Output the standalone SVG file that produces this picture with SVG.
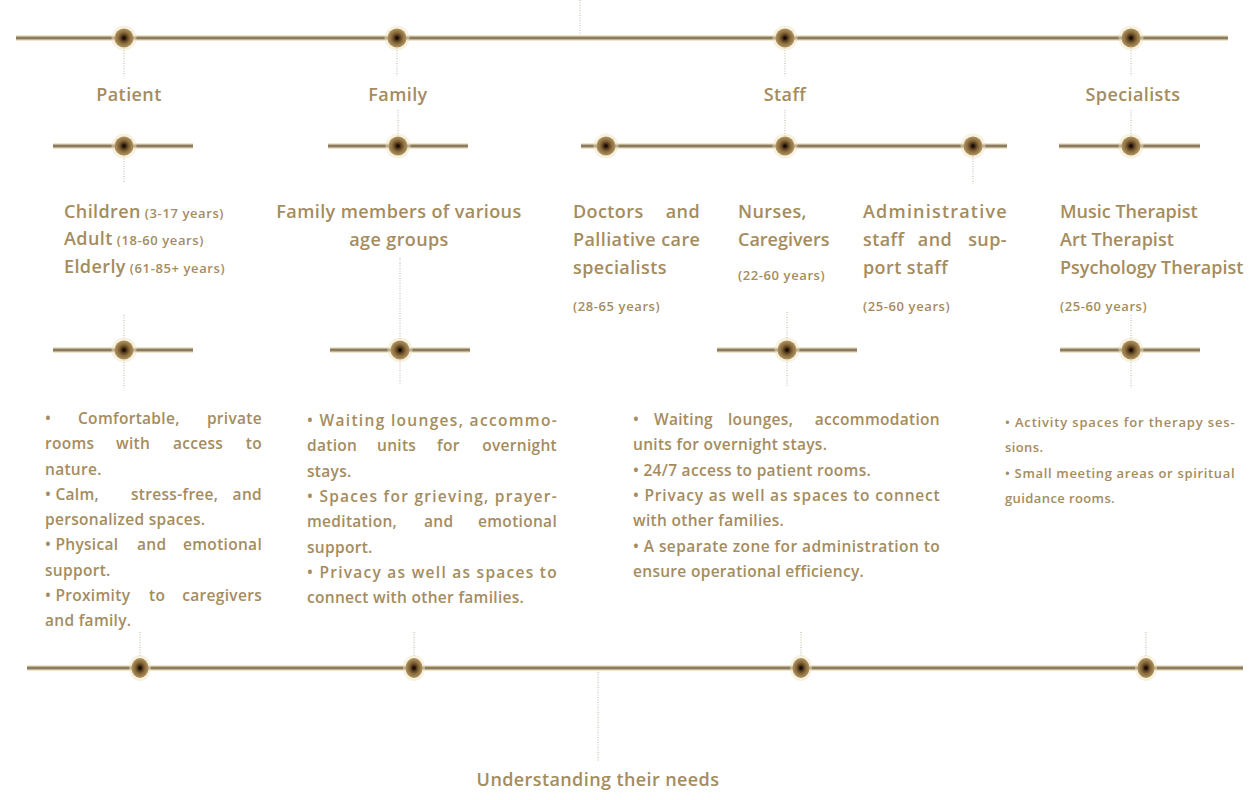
<svg xmlns="http://www.w3.org/2000/svg" width="1258" height="800" viewBox="0 0 1258 800">
<defs>
<radialGradient id="dg" cx="50%" cy="50%" r="50%">
<stop offset="0" stop-color="#1e120a"/>
<stop offset="0.25" stop-color="#4a3118"/>
<stop offset="0.6" stop-color="#8a6c3c"/>
<stop offset="1" stop-color="#b09462"/>
</radialGradient>
<g id="dot"><circle r="12.5" fill="#efe3c2" opacity="0.5"/><circle r="9.5" fill="url(#dg)"/><circle r="1.8" fill="#1a0f08"/></g>
<g id="edot"><ellipse rx="11" ry="13" fill="#efe3c2" opacity="0.5"/><ellipse rx="8.5" ry="10" fill="url(#dg)"/><circle r="1.8" fill="#1a0f08"/></g>
</defs>
<style>
.ln{stroke:#8c7c5f;stroke-width:3;fill:none}
.lg{stroke:#e6d6ad;stroke-width:6;fill:none;opacity:0.6}
.dt{stroke:#bfb6a6;stroke-width:1;stroke-dasharray:1 1.5;fill:none}
text{font-family:"Open Sans","Liberation Sans",sans-serif;fill:#a48c60;font-weight:600}
.h{font-size:18px;letter-spacing:0.4px}
.h0{font-size:18px;letter-spacing:0}
.c{text-anchor:middle}
.e{text-anchor:end}
.s{font-size:13px;letter-spacing:0.6px}
.b{font-size:15.5px;letter-spacing:0.3px}
.bs{font-size:13px;letter-spacing:0.4px}
</style>
<rect width="1258" height="800" fill="#ffffff"/>
<g id="connectors">
<line class="dt" x1="580" y1="0" x2="580" y2="36"/>
<line class="lg" x1="16" y1="38" x2="1228" y2="38"/><line class="ln" x1="16" y1="38" x2="1228" y2="38"/>
<line class="dt" x1="124" y1="48" x2="124" y2="76"/>
<line class="dt" x1="397" y1="48" x2="397" y2="76"/>
<line class="dt" x1="785" y1="48" x2="785" y2="76"/>
<line class="dt" x1="1131" y1="48" x2="1131" y2="76"/>
<line class="lg" x1="53" y1="146" x2="193" y2="146"/><line class="ln" x1="53" y1="146" x2="193" y2="146"/>
<line class="lg" x1="328" y1="146" x2="468" y2="146"/><line class="ln" x1="328" y1="146" x2="468" y2="146"/>
<line class="lg" x1="581" y1="146" x2="1007" y2="146"/><line class="ln" x1="581" y1="146" x2="1007" y2="146"/>
<line class="lg" x1="1059" y1="146" x2="1200" y2="146"/><line class="ln" x1="1059" y1="146" x2="1200" y2="146"/>
<line class="dt" x1="124" y1="156" x2="124" y2="182"/>
<line class="dt" x1="398" y1="110" x2="398" y2="136"/>
<line class="dt" x1="785" y1="110" x2="785" y2="136"/>
<line class="dt" x1="973" y1="156" x2="973" y2="184"/>
<line class="dt" x1="1131" y1="110" x2="1131" y2="136"/>
<line class="dt" x1="400" y1="258" x2="400" y2="340"/>
<line class="lg" x1="53" y1="350" x2="193" y2="350"/><line class="ln" x1="53" y1="350" x2="193" y2="350"/>
<line class="lg" x1="330" y1="350" x2="470" y2="350"/><line class="ln" x1="330" y1="350" x2="470" y2="350"/>
<line class="lg" x1="717" y1="350" x2="857" y2="350"/><line class="ln" x1="717" y1="350" x2="857" y2="350"/>
<line class="lg" x1="1060" y1="350" x2="1200" y2="350"/><line class="ln" x1="1060" y1="350" x2="1200" y2="350"/>
<line class="dt" x1="124" y1="315" x2="124" y2="340"/><line class="dt" x1="124" y1="360" x2="124" y2="388"/>
<line class="dt" x1="400" y1="360" x2="400" y2="385"/>
<line class="dt" x1="787" y1="312" x2="787" y2="340"/><line class="dt" x1="787" y1="360" x2="787" y2="386"/>
<line class="dt" x1="1131" y1="315" x2="1131" y2="340"/><line class="dt" x1="1131" y1="360" x2="1131" y2="388"/>
<line class="lg" x1="27" y1="668" x2="1243" y2="668"/><line class="ln" x1="27" y1="668" x2="1243" y2="668"/>
<line class="dt" x1="140" y1="632" x2="140" y2="656"/>
<line class="dt" x1="414" y1="632" x2="414" y2="656"/>
<line class="dt" x1="801" y1="632" x2="801" y2="656"/>
<line class="dt" x1="1146" y1="632" x2="1146" y2="656"/>
<line class="dt" x1="598" y1="672" x2="598" y2="762"/>
</g>
<g id="dots">
<use href="#dot" x="124" y="38"/><use href="#dot" x="397" y="38"/><use href="#dot" x="785" y="38"/><use href="#dot" x="1131" y="38"/>
<use href="#dot" x="124" y="146"/><use href="#dot" x="398" y="146"/><use href="#dot" x="606" y="146"/><use href="#dot" x="785" y="146"/><use href="#dot" x="973" y="146"/><use href="#dot" x="1131" y="146"/>
<use href="#dot" x="124" y="350"/><use href="#dot" x="400" y="350"/><use href="#dot" x="787" y="350"/><use href="#dot" x="1131" y="350"/>
<use href="#edot" x="140" y="668"/><use href="#edot" x="414" y="668"/><use href="#edot" x="801" y="668"/><use href="#edot" x="1146" y="668"/>
</g>
<g id="patient">
<text class="h c" x="129" y="101">Patient</text>
<text class="h" x="64" y="218">Children<tspan class="s"> (3-17 years)</tspan></text>
<text class="h" x="64" y="245">Adult<tspan class="s"> (18-60 years)</tspan></text>
<text class="h" x="64" y="273">Elderly<tspan class="s"> (61-85+ years)</tspan></text>
<text class="b" y="424"><tspan x="45">•</tspan><tspan x="78">Comfortable,</tspan></text><text class="b e" x="262" y="424">private</text>
<text class="b" y="449"><tspan x="45">rooms</tspan><tspan x="116">with</tspan><tspan x="173">access</tspan></text><text class="b e" x="262" y="449">to</text>
<text class="b" x="45" y="475">nature.</text>
<text class="b" y="500"><tspan x="45">• Calm,</tspan><tspan x="131">stress-free,</tspan></text><text class="b e" x="262" y="500">and</text>
<text class="b" x="45" y="525">personalized spaces.</text>
<text class="b" y="550"><tspan x="45">• Physical</tspan><tspan x="137">and</tspan></text><text class="b e" x="262" y="550">emotional</text>
<text class="b" x="45" y="576">support.</text>
<text class="b" y="601"><tspan x="45">• Proximity</tspan><tspan x="149">to</tspan></text><text class="b e" x="262" y="601">caregivers</text>
<text class="b" x="45" y="626">and family.</text>
</g>
<g id="family">
<text class="h c" x="398" y="101">Family</text>
<text class="h c" x="399" y="218">Family members of various</text>
<text class="h c" x="399" y="246">age groups</text>
<text class="b" x="307" y="426" textLength="250" lengthAdjust="spacing">• Waiting lounges, accommo-</text>
<text class="b" y="451"><tspan x="307">dation</tspan><tspan x="377">units</tspan><tspan x="437">for</tspan></text><text class="b e" x="557" y="451">overnight</text>
<text class="b" x="307" y="477">stays.</text>
<text class="b" x="307" y="502" textLength="250" lengthAdjust="spacing">• Spaces for grieving, prayer-</text>
<text class="b" y="527"><tspan x="307">meditation,</tspan><tspan x="424">and</tspan></text><text class="b e" x="557" y="527">emotional</text>
<text class="b" x="307" y="553">support.</text>
<text class="b" x="307" y="578" textLength="250" lengthAdjust="spacing">• Privacy as well as spaces to</text>
<text class="b" x="307" y="603">connect with other families.</text>
</g>
<g id="staff">
<text class="h c" x="785" y="101">Staff</text>
<text class="h" x="573" y="218">Doctors</text><text class="h e" x="700" y="218">and</text>
<text class="h" x="573" y="246">Palliative care</text>
<text class="h" x="573" y="274">specialists</text>
<text class="s" x="573" y="311">(28-65 years)</text>
<text class="h" x="738" y="218">Nurses,</text>
<text class="h0" x="738" y="246">Caregivers</text>
<text class="s" x="738" y="280">(22-60 years)</text>
<text class="h" x="863" y="218" textLength="144" lengthAdjust="spacing">Administrative</text>
<text class="h" x="863" y="246">staff</text><text class="h c" x="935" y="246">and</text><text class="h e" x="1007" y="246">sup-</text>
<text class="h" x="863" y="274">port staff</text>
<text class="s" x="863" y="311">(25-60 years)</text>
<text class="b" y="425"><tspan x="633">•</tspan><tspan x="654">Waiting</tspan><tspan x="728">lounges,</tspan></text><text class="b e" x="940" y="425">accommodation</text>
<text class="b" x="633" y="450">units for overnight stays.</text>
<text class="b" x="633" y="476">• 24/7 access to patient rooms.</text>
<text class="b" x="633" y="501" textLength="307" lengthAdjust="spacing">• Privacy as well as spaces to connect</text>
<text class="b" x="633" y="526">with other families.</text>
<text class="b" x="633" y="552" textLength="307" lengthAdjust="spacing">• A separate zone for administration to</text>
<text class="b" x="633" y="577">ensure operational efficiency.</text>
</g>
<g id="specialists">
<text class="h c" x="1133" y="101">Specialists</text>
<text class="h0" x="1060" y="218">Music Therapist</text>
<text class="h0" x="1060" y="246">Art Therapist</text>
<text class="h0" x="1060" y="274">Psychology Therapist</text>
<text class="s" x="1060" y="311">(25-60 years)</text>
<text class="bs" x="1005" y="427" textLength="230" lengthAdjust="spacing">• Activity spaces for therapy ses-</text>
<text class="bs" x="1005" y="452">sions.</text>
<text class="bs" x="1005" y="478" textLength="230" lengthAdjust="spacing">• Small meeting areas or spiritual</text>
<text class="bs" x="1005" y="503">guidance rooms.</text>
</g>
<g id="footer">
<text class="h c" x="598" y="786">Understanding their needs</text>
</g>
</svg>
